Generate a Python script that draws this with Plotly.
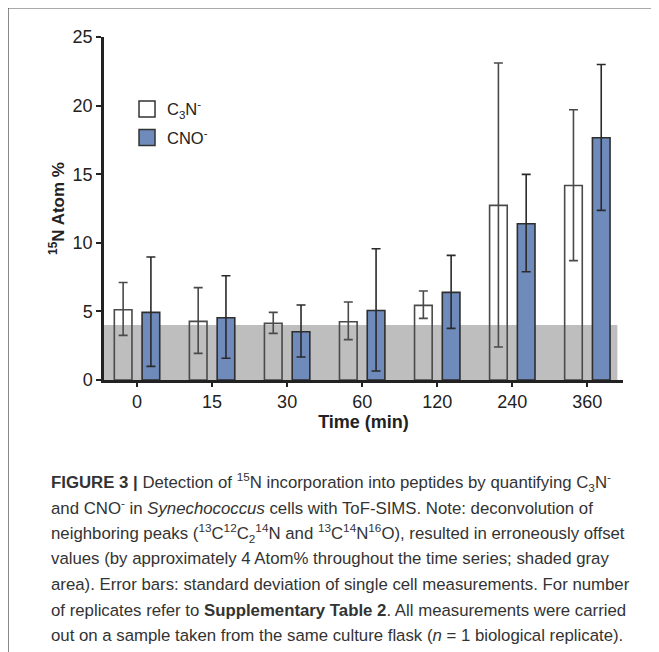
import plotly.graph_objects as go

# ---- data ----
time_labels = ["0", "15", "30", "60", "120", "240", "360"]
c3n_mean = [5.12, 4.27, 4.13, 4.25, 5.44, 12.73, 14.18]
c3n_upper = [7.11, 6.73, 4.93, 5.69, 6.49, 23.1, 19.70]
c3n_lower = [3.25, 1.94, 3.40, 2.94, 4.49, 2.40, 8.70]
cno_mean = [4.93, 4.54, 3.52, 5.07, 6.39, 11.39, 17.66]
cno_upper = [8.96, 7.60, 5.47, 9.57, 9.08, 14.99, 23.0]
cno_lower = [0.99, 1.58, 1.68, 0.66, 3.76, 7.89, 12.36]
offset_level = 4  # shaded gray area (Atom%)

series_names = ["C<sub>3</sub>N<sup>-</sup>", "CNO<sup>-</sup>"]

caption_lines = [
    "<b>FIGURE 3 |</b> Detection of <sup>15</sup>N incorporation into peptides by quantifying C<sub>3</sub>N<sup>-</sup>",
    "and CNO<sup>-</sup> in <i>Synechococcus</i> cells with ToF-SIMS. Note: deconvolution of",
    "neighboring peaks (<sup>13</sup>C<sup>12</sup>C<sub>2</sub><sup>14</sup>N and <sup>13</sup>C<sup>14</sup>N<sup>16</sup>O), resulted in erroneously offset",
    "values (by approximately 4 Atom% throughout the time series; shaded gray",
    "area). Error bars: standard deviation of single cell measurements. For number",
    "of replicates refer to <b>Supplementary Table 2</b>. All measurements were carried",
    "out on a sample taken from the same culture flask (<i>n</i> = 1 biological replicate).",
]

# ---- layout geometry (pixels, in the 659x652 window) ----
# the page body adds an 8px margin, so the figure is drawn 8px smaller and shifted
OFF = 8
W, H = 659 - OFF, 652 - OFF
PL, PR, PT, PB = 104 - OFF, 622.7 - OFF, 37.3 - OFF, 380.3 - OFF
pw, ph = PR - PL, PB - PT

def px_x(px):
    return (px - OFF - PL) / pw

def px_y(py):
    return (PB - (py - OFF)) / ph

FONT = "Liberation Sans, Arial, sans-serif"
BLUE = "#6E8BBB"

def err(mean, upper, lower, color):
    return dict(
        type="data", symmetric=False,
        array=[u - m for u, m in zip(upper, mean)],
        arrayminus=[m - l for m, l in zip(mean, lower)],
        color=color, thickness=1.6, width=4.5,
    )

fig = go.Figure()
fig.add_trace(go.Bar(
    x=time_labels, y=c3n_mean, name=series_names[0], showlegend=False,
    marker=dict(color="rgba(255,255,255,0)", line=dict(color="#4a4a4a", width=1.6)),
    error_y=err(c3n_mean, c3n_upper, c3n_lower, "#4a4a4a"),
))
fig.add_trace(go.Bar(
    x=time_labels, y=cno_mean, name=series_names[1], showlegend=False,
    marker=dict(color=BLUE, line=dict(color="#2e2e2e", width=1.6)),
    error_y=err(cno_mean, cno_upper, cno_lower, "#2a2a2a"),
))
# legend entries
fig.add_trace(go.Scatter(
    x=[None], y=[None], mode="markers", name=series_names[0], legendgroup="a",
    marker=dict(symbol="square", size=16, color="white", line=dict(color="#333", width=1.5)),
))
fig.add_trace(go.Scatter(
    x=[None], y=[None], mode="markers", name=series_names[1], legendgroup="b",
    marker=dict(symbol="square", size=16, color=BLUE, line=dict(color="#333", width=1.5)),
))

shapes = [
    dict(type="rect", xref="x", yref="y", x0=-0.44, x1=6.40, y0=0, y1=offset_level,
         fillcolor="#BEBEBE", line=dict(width=0), layer="below"),
    dict(type="line", xref="paper", yref="paper", x0=px_x(8), x1=px_x(662),
         y0=px_y(8), y1=px_y(8), line=dict(color="#555", width=1.5)),
    dict(type="line", xref="paper", yref="paper", x0=px_x(8), x1=px_x(8),
         y0=px_y(8), y1=px_y(656), line=dict(color="#555", width=1.5)),
]

annotations = []
cap_y0, cap_dy = 482, 25.7
for i, line in enumerate(caption_lines):
    annotations.append(dict(
        text=line, xref="paper", yref="paper", x=px_x(49), y=px_y(cap_y0 + i * cap_dy),
        xanchor="left", yanchor="middle", showarrow=False, align="left",
        font=dict(family=FONT, size=16.8, color="#333"),
    ))

fig.update_layout(
    width=W, height=H,
    margin=dict(l=PL, r=W - PR, t=PT, b=H - PB, pad=0),
    paper_bgcolor="white", plot_bgcolor="rgba(0,0,0,0)",
    barmode="group", bargap=0.26, bargroupgap=0.365,
    font=dict(family=FONT, color="#222"),
    showlegend=True,
    legend=dict(x=px_x(127), y=px_y(92), xanchor="left", yanchor="top",
                bgcolor="rgba(0,0,0,0)", font=dict(family=FONT, size=16.5, color="#222"),
                tracegroupgap=4, itemclick=False),
    shapes=shapes, annotations=annotations,
)
fig.update_xaxes(
    type="category", range=[-0.44, 6.475], showline=True, linewidth=2.5, linecolor="#222",
    ticks="outside", ticklen=4, tickwidth=2, tickcolor="#222", showgrid=False, zeroline=False,
    tickfont=dict(family=FONT, size=18, color="#222"),
    title=dict(text="<b>Time (min)</b>", font=dict(family=FONT, size=18, color="#222"), standoff=2),
)
fig.update_yaxes(
    range=[0, 25], dtick=5, showline=True, linewidth=2.5, linecolor="#222",
    ticks="outside", ticklen=5, tickwidth=2, tickcolor="#222", showgrid=False, zeroline=False,
    tickfont=dict(family=FONT, size=18, color="#222"),
    title=dict(text="<b><sup>15</sup>N Atom %</b>", font=dict(family=FONT, size=17, color="#222"), standoff=4),
)

fig.write_html("out.html")
